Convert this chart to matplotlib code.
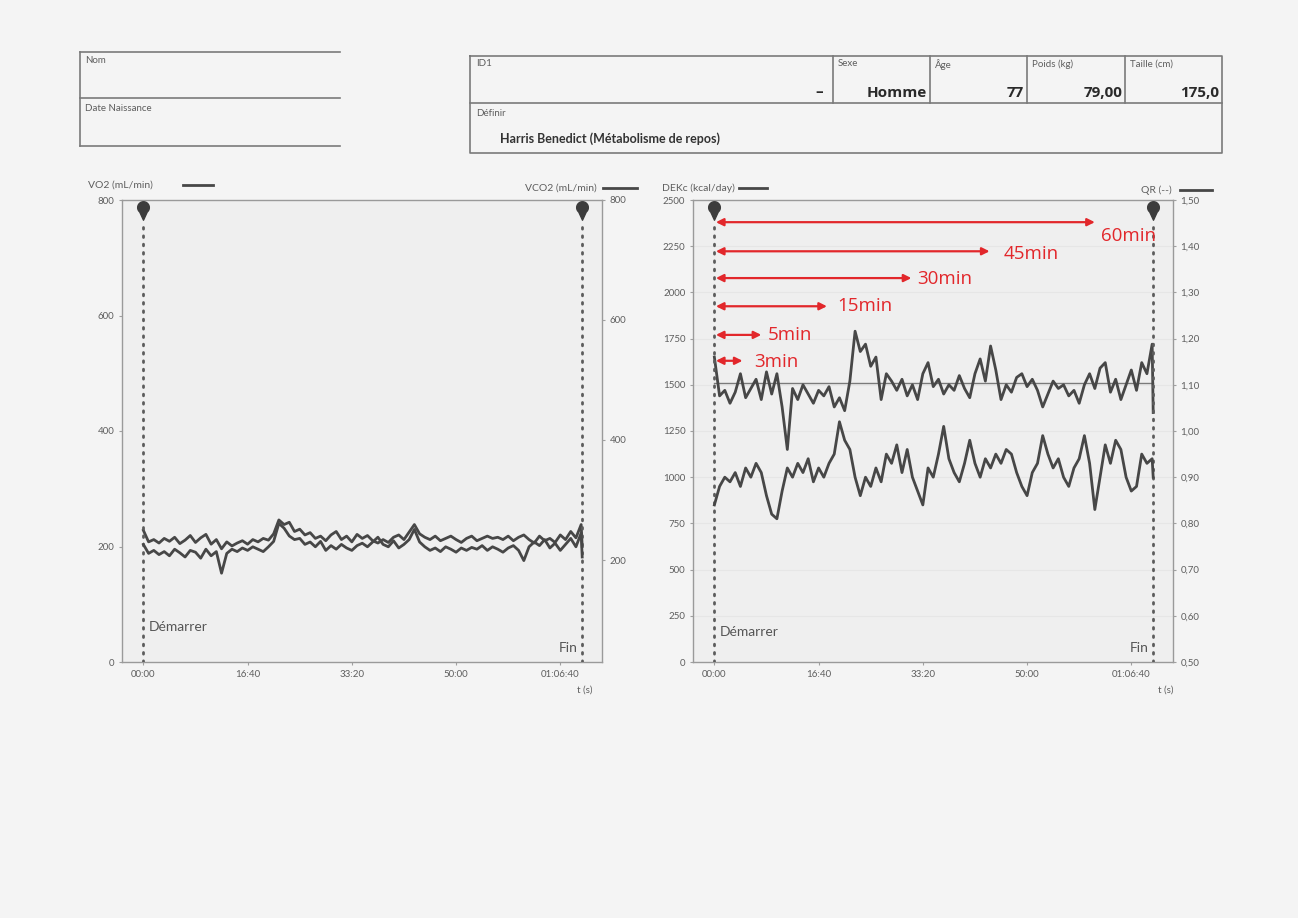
import numpy as np
import matplotlib
matplotlib.use("Agg")
import matplotlib.pyplot as plt
from matplotlib.path import Path
from matplotlib.transforms import blended_transform_factory

sample_step_s = 50
start_s = 0
fin_s = 4210

# left chart: upper trace on the VO2 axis, lower trace on the VCO2 axis
vo2_ml_min = [228, 208, 212, 206, 214, 209, 216, 205, 211, 219,
              207, 215, 221, 204, 212, 196, 208, 201, 206, 210,
              204, 212, 208, 214, 211, 222, 246, 238, 242, 226,
              230, 220, 224, 214, 218, 210, 220, 226, 212, 218,
              208, 221, 214, 219, 210, 206, 212, 207, 216, 220,
              212, 225, 238, 222, 216, 212, 218, 210, 214, 218,
              212, 207, 214, 218, 210, 214, 218, 214, 216, 212,
              218, 210, 216, 220, 212, 206, 218, 210, 214, 207,
              220, 212, 226, 215, 238, 200]
vco2_ml_min = [226, 211, 216, 209, 214, 207, 218, 212, 205, 216,
               213, 203, 218, 207, 214, 178, 211, 218, 214, 220,
               216, 222, 218, 214, 222, 231, 261, 253, 240, 234,
               236, 226, 230, 222, 231, 216, 224, 218, 226, 220,
               216, 224, 228, 222, 230, 238, 226, 222, 232, 220,
               226, 234, 251, 230, 222, 216, 220, 214, 222, 218,
               213, 220, 216, 221, 218, 224, 216, 222, 218, 213,
               220, 224, 216, 199, 222, 230, 224, 234, 220, 228,
               216, 226, 236, 222, 245, 205]

# right chart
dekc_kcal_day = [1650, 1440, 1470, 1400, 1460, 1560, 1430, 1480, 1530, 1420,
                 1570, 1450, 1560, 1380, 1150, 1480, 1420, 1500, 1450, 1400,
                 1470, 1440, 1490, 1380, 1430, 1360, 1520, 1790, 1680, 1720,
                 1600, 1650, 1420, 1560, 1520, 1470, 1530, 1440, 1500, 1420,
                 1560, 1620, 1490, 1530, 1450, 1500, 1470, 1550, 1480, 1430,
                 1560, 1640, 1520, 1710, 1580, 1420, 1500, 1460, 1540, 1560,
                 1490, 1530, 1470, 1380, 1450, 1520, 1480, 1500, 1440, 1470,
                 1400, 1500, 1560, 1480, 1590, 1620, 1460, 1530, 1420, 1500,
                 1580, 1470, 1620, 1560, 1720, 1350]
qr_ratio = [0.84, 0.88, 0.90, 0.89, 0.91, 0.88, 0.92, 0.90, 0.93, 0.91,
            0.86, 0.82, 0.81, 0.87, 0.92, 0.90, 0.93, 0.91, 0.94, 0.89,
            0.92, 0.90, 0.93, 0.95, 1.02, 0.98, 0.96, 0.90, 0.86, 0.90,
            0.88, 0.92, 0.89, 0.95, 0.93, 0.97, 0.91, 0.96, 0.90, 0.87,
            0.84, 0.92, 0.90, 0.95, 1.01, 0.94, 0.91, 0.89, 0.93, 0.98,
            0.93, 0.90, 0.94, 0.92, 0.95, 0.93, 0.96, 0.95, 0.91, 0.88,
            0.86, 0.91, 0.93, 0.99, 0.95, 0.92, 0.94, 0.90, 0.88, 0.92,
            0.94, 0.99, 0.93, 0.83, 0.90, 0.97, 0.93, 0.98, 0.96, 0.90,
            0.87, 0.88, 0.95, 0.93, 0.94, 0.90]
harris_benedict_kcal_day = 1508

time_ticks_s = [0, 1000, 2000, 3000, 4000]
time_tick_labels = ["00:00", "16:40", "33:20", "50:00", "01:06:40"]
vo2_ticks = [0, 200, 400, 600, 800]
vco2_ticks = [200, 400, 600, 800]
dekc_ticks = [0, 250, 500, 750, 1000, 1250, 1500, 1750, 2000, 2250, 2500]
qr_ticks = [0.5, 0.6, 0.7, 0.8, 0.9, 1.0, 1.1, 1.2, 1.3, 1.4, 1.5]
qr_tick_labels = ["0,50", "0,60", "0,70", "0,80", "0,90", "1,00",
                  "1,10", "1,20", "1,30", "1,40", "1,50"]

arrow_labels = ["60min", "45min", "30min", "15min", "5min", "3min"]
arrow_end_s = [3650, 2640, 1890, 1080, 450, 270]

header_cells = [("Sexe", "Homme"), ("Âge", "77"),
                ("Poids (kg)", "79,00"), ("Taille (cm)", "175,0")]
id_value = "–"
definir_value = "Harris Benedict (Métabolisme de repos)"


def times_for(values):
    return [i * sample_step_s for i in range(len(values) - 1)] + [fin_s]


# ---------------- figure ----------------
W, H = 1298, 918
fig = plt.figure(figsize=(W / 100, H / 100), dpi=100)
fig.patch.set_facecolor("#f4f4f4")

page = fig.add_axes([0, 0, 1, 1])
page.set_xlim(0, W)
page.set_ylim(H, 0)
page.axis("off")

GRAY_TXT = "#5e5e5e"
LINE = "#474747"
FRAME = "#9a9a9a"
RED = "#e2272b"
small = dict(family="Lato", color=GRAY_TXT)

# ---- header, left box ----
for y in (52, 98, 146):
    page.plot([80, 340], [y, y], color="#7a7a7a", lw=1.2)
page.plot([80, 80], [52, 146], color="#7a7a7a", lw=1.2)
page.text(85, 63, "Nom", fontsize=7, **small)
page.text(85, 111, "Date Naissance", fontsize=7, **small)

# ---- header, right box ----
bx0, bx1, by0, bym, by1 = 470, 1222, 56, 103, 153
page.plot([bx0, bx1, bx1, bx0, bx0], [by0, by0, by1, by1, by0], color="#7a7a7a", lw=1.2)
page.plot([bx0, bx1], [bym, bym], color="#7a7a7a", lw=1.2)
dividers = [833, 930, 1027, 1125]
for xd in dividers:
    page.plot([xd, xd], [by0, bym], color="#7a7a7a", lw=1.2)
page.text(476, 64, "ID1", fontsize=7, va="center", **small)
page.text(823, 92, id_value, fontsize=11, fontweight="bold", ha="right", va="center",
          family="Open Sans", color="#2a2a2a")
cell_right = dividers[1:] + [bx1]
for (lab, val), xl, xr in zip(header_cells, dividers, cell_right):
    page.text(xl + 5, 64, lab, fontsize=7, va="center", **small)
    page.text(xr - 3, 93, val, fontsize=11, fontweight="bold", ha="right", va="center",
              family="Open Sans", color="#2a2a2a")
page.text(476, 113, "Définir", fontsize=7, va="center", **small)
page.text(500, 139, definir_value, fontsize=9, fontweight="bold", va="center",
          family="Lato", color="#333333")


# ---------------- charts ----------------
def px_axes(x0, y0, x1, y1):
    return fig.add_axes([x0 / W, 1 - y1 / H, (x1 - x0) / W, (y1 - y0) / H])


ang = np.linspace(np.deg2rad(-50), np.deg2rad(230), 40)
verts = [(0, -1.0)] + [(0.6 * np.cos(a), 0.3 + 0.6 * np.sin(a)) for a in ang] + [(0, -1.0)]
codes = [Path.MOVETO] + [Path.LINETO] * (len(verts) - 2) + [Path.CLOSEPOLY]
pin = Path(verts, codes)


def style(ax, twin):
    ax.set_facecolor("#efefef")
    for s in ax.spines.values():
        s.set_color(FRAME)
        s.set_linewidth(1.0)
    for a in (ax, twin):
        a.tick_params(axis="both", labelsize=7, labelcolor=GRAY_TXT, color="#a0a0a0",
                      length=2.5, width=0.8, pad=3)
        for lab in a.get_xticklabels() + a.get_yticklabels():
            lab.set_family("Lato")
    for s in twin.spines.values():
        s.set_visible(False)
    ax.set_xlim(-205, 4400)
    ax.set_xticks(time_ticks_s)
    ax.set_xticklabels(time_tick_labels, family="Lato")


def markers(ax, dem_y, fin_y):
    tr = blended_transform_factory(ax.transData, ax.transAxes)
    for t in (start_s, fin_s):
        ax.plot([t, t], [0, 0.955], transform=tr, color="#5c5c5c", lw=2,
                ls=(0, (0.6, 2.4)), dash_capstyle="round", zorder=2)
        ax.plot([t], [0.978], transform=tr, marker=pin, ms=14, color="#3c3c3c",
                clip_on=False, zorder=6)
    ax.text(start_s + 55, dem_y, "Démarrer", transform=tr, fontsize=10,
            family="Lato", color="#555555", va="center")
    ax.text(fin_s - 45, fin_y, "Fin", transform=tr, fontsize=10,
            family="Lato", color="#555555", va="center", ha="right")


# ---- left chart: VO2 / VCO2 ----
ax1 = px_axes(122, 200, 602, 662)
ax1r = ax1.twinx()
ax1.set_ylim(0, 800)
ax1.set_yticks(vo2_ticks)
ax1r.set_ylim(30, 800)
ax1r.set_yticks(vco2_ticks)
style(ax1, ax1r)
ax1.plot(times_for(vo2_ml_min), vo2_ml_min, color=LINE, lw=2.0, zorder=3)
ax1r.plot(times_for(vco2_ml_min), vco2_ml_min, color=LINE, lw=2.0, zorder=3)
markers(ax1r, 0.075, 0.03)

page.text(88, 185, "VO2 (mL/min)", fontsize=7.5, va="center", **small)
page.plot([183, 213], [185, 185], color=LINE, lw=2)
page.text(597, 188, "VCO2 (mL/min)", fontsize=7.5, va="center", ha="right", **small)
page.plot([603, 637], [188, 188], color=LINE, lw=2)
page.text(585, 690, "t (s)", fontsize=7, ha="center", va="center", **small)

# ---- right chart: DEKc / QR ----
ax2 = px_axes(693, 200, 1173, 662)
ax2r = ax2.twinx()
ax2.set_ylim(0, 2500)
ax2.set_yticks(dekc_ticks)
ax2r.set_ylim(0.5, 1.5)
ax2r.set_yticks(qr_ticks)
ax2r.set_yticklabels(qr_tick_labels)
style(ax2, ax2r)
for yv in dekc_ticks[1:-1]:
    ax2.axhline(yv, color="#e6e6e6", lw=0.8, zorder=0)
ax2.plot([start_s, fin_s], [harris_benedict_kcal_day] * 2, color="#7a7a7a", lw=1.0, zorder=2)
ax2.plot(times_for(dekc_kcal_day), dekc_kcal_day, color=LINE, lw=2.0, zorder=3)
ax2r.plot(times_for(qr_ratio), qr_ratio, color=LINE, lw=2.0, zorder=3)
markers(ax2r, 0.065, 0.03)

page.text(662, 188, "DEKc (kcal/day)", fontsize=7.5, va="center", **small)
page.plot([739, 767], [188, 188], color=LINE, lw=2)
page.text(1172, 190, "QR (--)", fontsize=7.5, va="center", ha="right", **small)
page.plot([1180, 1212], [190, 190], color=LINE, lw=2)
page.text(1166, 690, "t (s)", fontsize=7, ha="center", va="center", **small)

# red duration arrows
tr2 = blended_transform_factory(ax2.transData, ax2.transAxes)
arrow_y_frac = [0.952, 0.889, 0.831, 0.770, 0.708, 0.652]
label_offset_px = [(6, -14), (14, -3), (6, -1), (10, 0), (6, 0), (12, -1)]
for lab, end, yf, (dx, dy) in zip(arrow_labels, arrow_end_s, arrow_y_frac, label_offset_px):
    ax2r.annotate("", xy=(end, yf), xytext=(start_s + 15, yf), xycoords=tr2, textcoords=tr2,
                  arrowprops=dict(arrowstyle="<|-|>", color=RED, lw=1.6,
                                  mutation_scale=11, shrinkA=0, shrinkB=0), zorder=7)
    ax2r.annotate(lab, xy=(end, yf), xycoords=tr2, xytext=(dx, dy),
                  textcoords="offset pixels", fontsize=13.5, family="Open Sans",
                  color=RED, va="center", ha="left", zorder=7)

fig.savefig("out.png", dpi=100, facecolor=fig.get_facecolor())
